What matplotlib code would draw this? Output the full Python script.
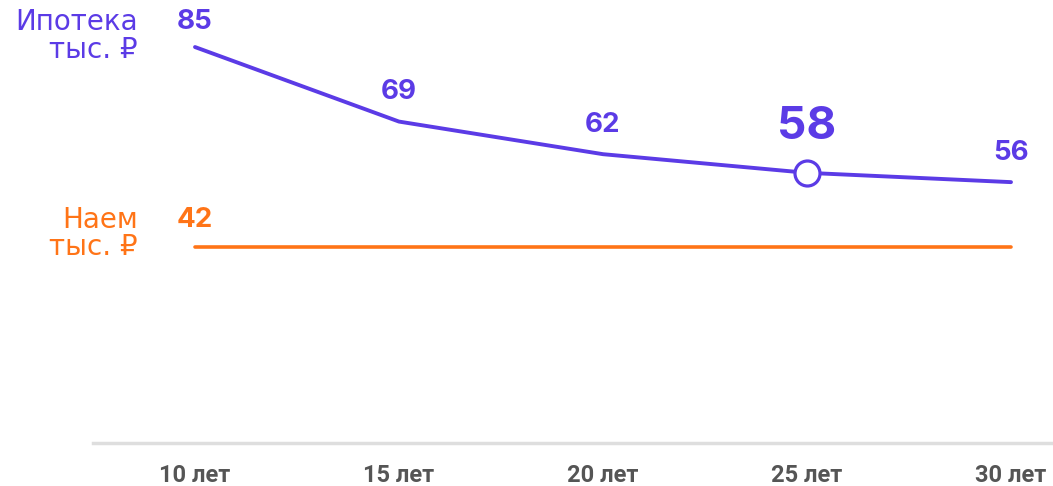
import matplotlib
matplotlib.use("Agg")

import matplotlib.pyplot as plt

# ============================================================
# Data
# ============================================================

terms = ["10 лет", "15 лет", "20 лет", "25 лет", "30 лет"]
mortgage = [85, 69, 62, 58, 56]
rent = [42, 42, 42, 42, 42]
highlight_idx = 3

PURPLE = "#5B3BE6"
ORANGE = "#FF7417"
GRAY_TXT = "#555555"
GRAY_LINE = "#DEDEDE"

plt.rcParams["font.family"] = ["Inter", "DejaVu Sans"]

fig = plt.figure(figsize=(10.53, 4.86), dpi=100)
ax = fig.add_axes([93 / 1053, 43 / 486, 960 / 1053, 443 / 486])

x = list(range(len(terms)))

ax.plot(x, mortgage, color=PURPLE, lw=2.8, solid_capstyle="round", zorder=3)
ax.plot(x, rent, color=ORANGE, lw=2.6, solid_capstyle="round", zorder=3)

ax.plot(
    x[highlight_idx],
    mortgage[highlight_idx],
    marker="o",
    markersize=18,
    markerfacecolor="white",
    markeredgecolor=PURPLE,
    markeredgewidth=2.3,
    zorder=4,
)

# value labels
for i, v in enumerate(mortgage):
    if i == highlight_idx:
        ax.annotate(str(v), (i, v), xytext=(0, 33), textcoords="offset points",
                    ha="center", va="center", color=PURPLE, fontsize=33,
                    fontweight="bold")
    else:
        off = 18 if i == 0 else 21
        ax.annotate(str(v), (i, v), xytext=(0, off), textcoords="offset points",
                    ha="center", va="center", color=PURPLE, fontsize=20,
                    fontweight="bold")

ax.annotate(str(rent[0]), (0, rent[0]), xytext=(0, 20), textcoords="offset points",
            ha="center", va="center", color=ORANGE, fontsize=20, fontweight="bold")

# series names on the left
name_font = dict(ha="right", va="center", fontsize=20, family=["DejaVu Sans"])
fig.text(138 / 1053, 1 - 22 / 486, "Ипотека", color=PURPLE, **name_font)
fig.text(138 / 1053, 1 - 50 / 486, "тыс. ₽", color=PURPLE, **name_font)
fig.text(138 / 1053, 1 - 220 / 486, "Наем", color=ORANGE, **name_font)
fig.text(138 / 1053, 1 - 247 / 486, "тыс. ₽", color=ORANGE, **name_font)

ax.set_xlim(-0.5, (1053 - 195) / 204)
ax.set_ylim(0, 95.1)

ax.set_xticks(x)
ax.set_xticklabels(terms, family=["Roboto", "DejaVu Sans"],
                   fontsize=17, fontweight="bold", color=GRAY_TXT)
ax.tick_params(axis="x", length=0, pad=15)
ax.set_yticks([])

for side in ["top", "right", "left"]:
    ax.spines[side].set_visible(False)
ax.spines["bottom"].set_color(GRAY_LINE)
ax.spines["bottom"].set_linewidth(2.5)

fig.savefig("out.png", dpi=100)
